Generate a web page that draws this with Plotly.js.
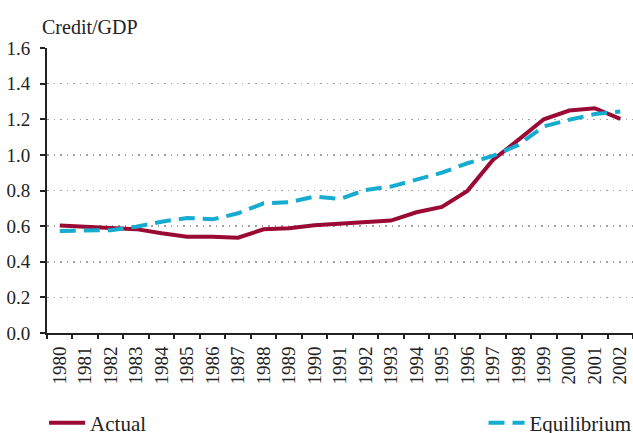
<!DOCTYPE html>
<html>
<head>
<meta charset="utf-8">
<script src="https://cdn.plot.ly/plotly-3.0.1.min.js"></script>
<style>html,body{margin:0;padding:0;background:#fff;}#chart{width:633px;height:433px;}</style>
</head>
<body>
<div id="chart"></div>
<script>
const years = ['1980','1981','1982','1983','1984','1985','1986','1987','1988','1989','1990','1991','1992','1993','1994','1995','1996','1997','1998','1999','2000','2001','2002'];
const actual = [0.603,0.597,0.590,0.583,0.560,0.541,0.541,0.535,0.582,0.588,0.605,0.615,0.620,0.631,0.678,0.708,0.798,0.972,1.084,1.200,1.249,1.262,1.202];
const equilibrium = [0.573,0.573,0.577,0.597,0.625,0.646,0.638,0.672,0.728,0.734,0.766,0.753,0.803,0.822,0.863,0.900,0.953,0.994,1.056,1.160,1.197,1.229,1.243];
const yTicks = [0,0.2,0.4,0.6,0.8,1.0,1.2,1.4,1.6];

const font = '"Liberation Serif", "Times New Roman", Times, serif';

const traces = [
  {x: years, y: actual, name: 'Actual', type: 'scatter', mode: 'lines',
   line: {color: '#9b0a35', width: 4}, legend: 'legend'},
  {x: years, y: equilibrium, name: 'Equilibrium', type: 'scatter', mode: 'lines',
   line: {color: '#16acd0', width: 4, dash: '16px,8px'}, legend: 'legend2'}
];

const layout = {
  width: 633, height: 433,
  margin: {l: 47, r: 0, t: 48, b: 100, pad: 0, autoexpand: false},
  paper_bgcolor: '#fff', plot_bgcolor: '#fff',
  font: {family: font, size: 19, color: '#222'},
  showlegend: true,
  xaxis: {
    type: 'category', range: [-0.5, years.length - 0.5], autorange: false,
    tickson: 'boundaries', tickangle: -90, automargin: false,
    showline: true, linecolor: '#222', linewidth: 2,
    ticks: 'outside', ticklen: 4, tickwidth: 2, tickcolor: '#222',
    showgrid: false, zeroline: false, fixedrange: true, ticklabelstandoff: 4,
    tickfont: {family: font, size: 19, color: '#222'}
  },
  yaxis: {
    range: [0, 1.6], autorange: false, tickvals: yTicks, ticktext: yTicks.map(v => v.toFixed(1)),
    automargin: false,
    showline: true, linecolor: '#222', linewidth: 2,
    ticks: 'outside', ticklen: 5, tickwidth: 2, tickcolor: '#222',
    showgrid: true, gridcolor: '#a0a0a0', griddash: '1.5px,5px', gridwidth: 1.5,
    zeroline: false, ticklabelstandoff: 6,
    tickfont: {family: font, size: 19, color: '#222'}
  },
  annotations: [{
    text: 'Credit/GDP', xref: 'paper', yref: 'paper', x: 0, y: 1,
    xanchor: 'left', yanchor: 'bottom', xshift: -7, yshift: 8, showarrow: false,
    font: {family: font, size: 20, color: '#222'}
  }],
  legend: {
    x: -0.005, y: -0.316, xanchor: 'left', yanchor: 'middle', orientation: 'h',
    itemwidth: 36,
    bgcolor: 'rgba(0,0,0,0)', font: {family: font, size: 21, color: '#222'}
  },
  legend2: {
    x: 1.006, y: -0.316, xanchor: 'right', yanchor: 'middle', orientation: 'h',
    itemwidth: 36,
    bgcolor: 'rgba(0,0,0,0)', font: {family: font, size: 21, color: '#222'}
  }
};

Plotly.newPlot('chart', traces, layout, {displayModeBar: false, staticPlot: true});
</script>
</body>
</html>
